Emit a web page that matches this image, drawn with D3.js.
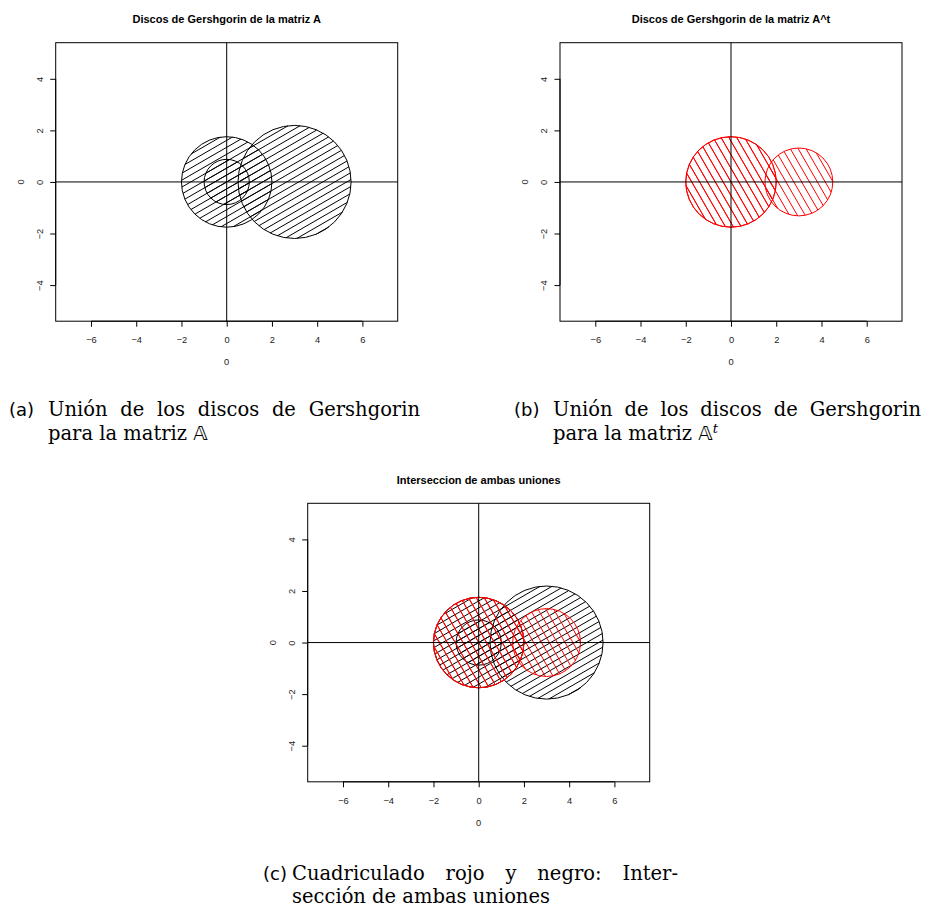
<!DOCTYPE html>
<html>
<head>
<meta charset="utf-8">
<script src="https://cdn.jsdelivr.net/npm/d3@7"></script>
<style>
  html, body { margin: 0; padding: 0; background: #fff; }
  svg { display: block; }
</style>
</head>
<body>
<svg id="container" width="930" height="911"></svg>
<script>
// --- data ---
const xTicks = [-6, -4, -2, 0, 2, 4, 6];
const yTicks = [-4, -2, 0, 2, 4];
const xLim = [-7.56, 7.56];
const yLim = [-5.4, 5.4];

// Gershgorin discs (centre on the real axis, radius)
const centersA = [0, 0, 3];
const radiiA = [1, 2, 2.5];
const centersAt = [0, 0, 3];
const radiiAt = [2, 2, 1.5];

const titles = [
  "Discos de Gershgorin de la matriz A",
  "Discos de Gershgorin de la matriz A^t",
  "Interseccion de ambas uniones"
];

const boxW = 342, boxH = 278.5;

const svg = d3.select("#container");

const x = d3.scaleLinear().domain(xLim).range([0, boxW]);
const y = d3.scaleLinear().domain(yLim).range([boxH, 0]);

// hatch lines clipped to a circle (lines anchored at data origin, like R)
function chords(cx, cy, r, angle, d) {
  const a = angle * Math.PI / 180;
  const t = [Math.cos(a), -Math.sin(a)];
  const n = [Math.sin(a), Math.cos(a)];
  const ox = x(0), oy = y(0);
  const s = n[0] * (cx - ox) + n[1] * (cy - oy);
  const out = [];
  for (let k = Math.ceil((s - r) / d); k <= Math.floor((s + r) / d); k++) {
    const off = k * d - s;
    const h = Math.sqrt(Math.max(0, r * r - off * off));
    const px = cx + n[0] * off, py = cy + n[1] * off;
    out.push({x1: px - t[0] * h, y1: py - t[1] * h, x2: px + t[0] * h, y2: py + t[1] * h});
  }
  return out;
}

function discs(g, centers, radii, color, angle, spacing) {
  centers.forEach((c, i) => {
    const cx = x(c), cy = y(0), r = x(radii[i]) - x(0);
    const dg = g.append("g");
    dg.append("g")
      .attr("stroke", color)
      .attr("stroke-width", 1)
      .selectAll("line")
      .data(chords(cx, cy, r, angle, spacing))
      .join("line")
      .attr("x1", d => d.x1).attr("y1", d => d.y1)
      .attr("x2", d => d.x2).attr("y2", d => d.y2);
    dg.append("circle")
      .attr("cx", cx).attr("cy", cy).attr("r", r)
      .attr("fill", "none")
      .attr("stroke", color)
      .attr("stroke-width", 1);
  });
}

function panel(left, top, title, sets) {
  const g = svg.append("g").attr("transform", `translate(${left},${top})`);

  g.append("text")
    .attr("x", boxW / 2).attr("y", -19.7)
    .attr("text-anchor", "middle")
    .attr("font-family", "Liberation Sans, Arial, sans-serif")
    .attr("font-weight", "bold")
    .attr("font-size", 11)
    .text(title);

  const plot = g.append("g");
  sets.forEach(s => discs(plot, s.centers, s.radii, s.color, s.angle, s.spacing));

  // abline(h=0, v=0)
  g.append("line").attr("x1", 0).attr("x2", boxW).attr("y1", y(0)).attr("y2", y(0))
    .attr("stroke", "#000");
  g.append("line").attr("x1", x(0)).attr("x2", x(0)).attr("y1", 0).attr("y2", boxH)
    .attr("stroke", "#000");

  g.append("rect").attr("width", boxW).attr("height", boxH)
    .attr("fill", "none").attr("stroke", "#000");

  const xAxis = g.append("g")
    .attr("transform", `translate(0,${boxH})`)
    .call(d3.axisBottom(x).tickValues(xTicks).tickSize(5.5).tickSizeOuter(0)
      .tickFormat(d => d3.format("")(d).replace("-", "\u2212")));
  xAxis.select(".domain").attr("d", `M${x(xTicks[0])},0H${x(xTicks[xTicks.length - 1])}`);
  xAxis.selectAll("text").attr("dy", null).attr("y", 22)
    .attr("font-family", "Liberation Sans, Arial, sans-serif").attr("font-size", 9.3).attr("fill", "#222");

  const yAxis = g.append("g")
    .call(d3.axisLeft(y).tickValues(yTicks).tickSize(5.5).tickSizeOuter(0)
      .tickFormat(d => d3.format("")(d).replace("-", "\u2212")));
  yAxis.select(".domain").attr("d", `M0,${y(yTicks[0])}V${y(yTicks[yTicks.length - 1])}`);
  yAxis.selectAll("text")
    .attr("x", null).attr("dy", null)
    .attr("text-anchor", "middle")
    .attr("transform", "translate(-13,0) rotate(-90)")
    .attr("font-family", "Liberation Sans, Arial, sans-serif").attr("font-size", 9.3).attr("fill", "#222");

  g.append("text")
    .attr("x", boxW / 2).attr("y", boxH + 44)
    .attr("text-anchor", "middle")
    .attr("font-family", "Liberation Sans, Arial, sans-serif").attr("font-size", 9.3).attr("fill", "#222")
    .text("0");
  g.append("text")
    .attr("transform", `translate(-31.7,${boxH / 2}) rotate(-90)`)
    .attr("text-anchor", "middle")
    .attr("font-family", "Liberation Sans, Arial, sans-serif").attr("font-size", 9.3).attr("fill", "#222")
    .text("0");
}

const setA = {centers: centersA, radii: radiiA, color: "#000", angle: 30, spacing: 6};
const setAt = {centers: centersAt, radii: radiiAt, color: "#ff0000", angle: -60, spacing: 6.8};

panel(55.7, 42.7, titles[0], [setA]);
panel(560, 42.7, titles[1], [setAt]);
panel(307.7, 503.3, titles[2], [setA, setAt]);

// --- captions ---
const serif = "DejaVu Serif, serif";
const capSize = 19.5;

function caption(label, lx, tx, lines) {
  const g = svg.append("g");
  g.append("text")
    .attr("x", lx).attr("y", lines[0].y)
    .attr("font-family", "DejaVu Sans, sans-serif").attr("font-size", 18)
    .text(label);
  lines.forEach(l => {
    const t = g.append("text")
      .attr("x", tx).attr("y", l.y)
      .attr("font-family", serif).attr("font-size", capSize);
    l.parts.forEach(p => {
      const s = t.append("tspan").text(p.text);
      if (p.sup) s.attr("dy", -7).attr("font-size", 13).attr("font-style", "italic");
      if (p.font) s.attr("font-family", p.font);
    });
    if (l.end) {
      const w = t.node().getComputedTextLength();
      const nSpaces = l.parts.map(p => p.text).join("").split(" ").length - 1;
      if (nSpaces > 0) t.attr("word-spacing", (l.end - tx - w) / nSpaces);
    }
  });
}

caption("(a)", 9, 48, [
  {y: 416, end: 420, parts: [{text: "Unión de los discos de Gershgorin"}]},
  {y: 440, parts: [{text: "para la matriz "}, {text: "\u{1D538}", font: "DejaVu Sans, serif"}]}
]);
caption("(b)", 514, 553, [
  {y: 416, end: 921, parts: [{text: "Unión de los discos de Gershgorin"}]},
  {y: 440, parts: [{text: "para la matriz "}, {text: "\u{1D538}", font: "DejaVu Sans, serif"}, {text: "t", sup: true}]}
]);
caption("(c)", 263, 292, [
  {y: 880, end: 678, parts: [{text: "Cuadriculado rojo y negro: Inter-"}]},
  {y: 903, parts: [{text: "sección de ambas uniones"}]}
]);
</script>
</body>
</html>
